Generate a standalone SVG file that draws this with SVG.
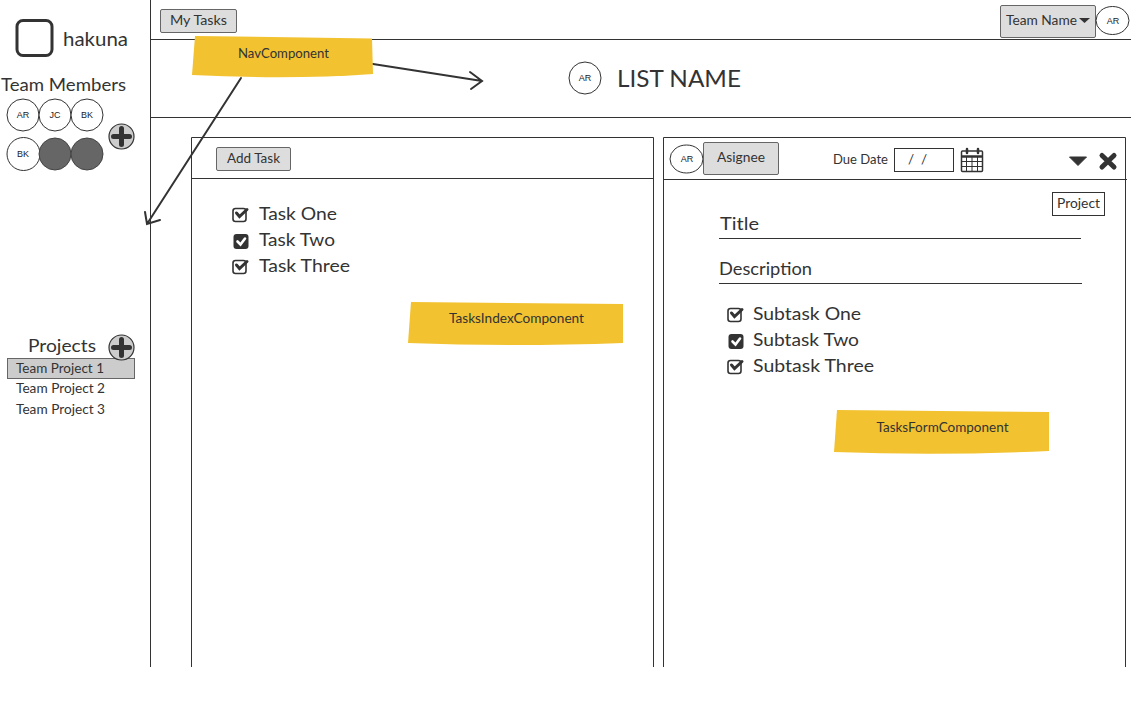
<svg xmlns="http://www.w3.org/2000/svg" width="1131" height="710" viewBox="0 0 1131 710">
<style>
text{font-family:"Lato","Liberation Sans",sans-serif;fill:#333}
.m{text-anchor:middle}
.ln{stroke:#333;stroke-width:1;fill:none}
.btn{fill:#ddd;stroke:#666;stroke-width:1}
.av{fill:#fff;stroke:#333;stroke-width:1}
.avt{font-family:"Liberation Sans",sans-serif;font-size:9px;text-anchor:middle;fill:#222}
.dark{fill:#666;stroke:#444;stroke-width:1}
.note{fill:#f2c230}
.t13{font-size:13.5px}
.t18{font-size:18px}
.arrow{stroke:#333;stroke-width:2;fill:none;stroke-linecap:round}
.chk{fill:none;stroke:#333;stroke-width:1.6}
.tick{fill:none;stroke:#333;stroke-width:3;stroke-linecap:round}
.tickw{fill:none;stroke:#fff;stroke-width:2.6;stroke-linecap:round}
</style>
<defs>
<g id="plus"><circle cx="0" cy="0" r="12.500" fill="#ccc" stroke="#333" stroke-width="1.200"/><path d="M0-8V8M-8 0H8" stroke="#333" stroke-width="5" stroke-linecap="round"/></g>
<g id="c1"><rect x="-7" y="-6" width="13" height="13" rx="2.500" class="chk"/><path d="M-3.500-1.500l3 3.500L7-5" class="tick"/></g>
<g id="c2"><rect x="-7.500" y="-7" width="15" height="15" rx="3" fill="#333"/><path d="M-3.500 .5l3 3L4-2.500" class="tickw"/></g>
</defs>
<g id="frame">
<path class="ln" d="M150.500 0V667M151 39.500H1131M151 117.500H1131"/>
<path class="ln" d="M191.500 667V137.500H653.500V667M191.500 178.500H653.500M663.500 667V137.500H1125.500V667M663.500 179.500H1127"/>
</g>
<g id="logo"><rect x="17" y="20.500" width="35" height="35" rx="6" fill="none" stroke="#333" stroke-width="3"/><text x="63" y="46" font-size="20" textLength="65" lengthAdjust="spacingAndGlyphs">hakuna</text></g>
<g id="team-members">
<text x="1" y="91" class="t18" textLength="125" lengthAdjust="spacingAndGlyphs">Team Members</text>
<circle class="av" cx="23" cy="115" r="16"/><text class="avt" x="23" y="118">AR</text>
<circle class="av" cx="55" cy="115" r="16"/><text class="avt" x="55" y="118">JC</text>
<circle class="av" cx="87" cy="115" r="16"/><text class="avt" x="87" y="118">BK</text>
<circle class="av" cx="23.500" cy="154" r="16.500"/><text class="avt" x="23" y="157">BK</text>
<circle class="dark" cx="55" cy="154" r="16"/><circle class="dark" cx="87" cy="154" r="16"/>
<use href="#plus" x="121.500" y="136.500"/>
</g>
<g id="projects">
<text x="28" y="352" class="t18" textLength="68" lengthAdjust="spacingAndGlyphs">Projects</text>
<rect x="7.500" y="358.500" width="127" height="20" fill="#ccc" stroke="#666" stroke-width="1"/>
<use href="#plus" x="121.500" y="347.500"/>
<text x="16" y="373" class="t13" textLength="88" lengthAdjust="spacingAndGlyphs">Team Project 1</text>
<text x="16" y="393" class="t13" textLength="89" lengthAdjust="spacingAndGlyphs">Team Project 2</text>
<text x="16" y="414" class="t13" textLength="89" lengthAdjust="spacingAndGlyphs">Team Project 3</text>
</g>
<g id="my-tasks"><rect class="btn" x="160.500" y="9.500" width="76" height="23" rx="1.500"/><text x="170" y="25" class="t13" textLength="57" lengthAdjust="spacingAndGlyphs">My Tasks</text></g>
<g id="team-name"><rect class="btn" x="1000.500" y="5.500" width="95" height="32" rx="1.500"/><text x="1006" y="25" class="t13" textLength="71" lengthAdjust="spacingAndGlyphs">Team Name</text><path d="M1079 18h11l-5.500 5z" fill="#333"/><ellipse class="av" cx="1112.500" cy="20.500" rx="16.500" ry="14"/><text class="avt" x="1113" y="24">AR</text></g>
<g id="list-name"><circle class="av" cx="585" cy="78" r="16"/><text class="avt" x="585" y="81">AR</text><text x="617" y="87" font-size="24" textLength="124" lengthAdjust="spacingAndGlyphs">LIST NAME</text></g>
<g id="connectors">
<path class="arrow" d="M373 64L482 81M470 72L482 81L471 89"/>
<path class="arrow" d="M241 78L147 224M145 212L147 224L160 220"/>
</g>
<g id="nav-note"><path class="note" d="M195 36L372 38.500L373 74Q290 80 192 75Z"/><text x="283.500" y="58" class="t13 m" textLength="91" lengthAdjust="spacingAndGlyphs">NavComponent</text></g>
<g id="add-task"><rect class="btn" x="216.500" y="147.500" width="74" height="23" rx="1.500"/><text x="227" y="163" class="t13" textLength="53" lengthAdjust="spacingAndGlyphs">Add Task</text></g>
<g id="tasks-index">
<use href="#c1" x="240" y="214.500"/><text x="259" y="220" class="t18" textLength="78" lengthAdjust="spacingAndGlyphs">Task One</text>
<use href="#c2" x="241" y="241"/><text x="259" y="246" class="t18" textLength="76" lengthAdjust="spacingAndGlyphs">Task Two</text>
<use href="#c1" x="240" y="266.500"/><text x="259" y="272" class="t18" textLength="91" lengthAdjust="spacingAndGlyphs">Task Three</text>
<path class="note" d="M411 302L623 304L623 343Q510 347 408 343Z"/><text x="516.500" y="323" class="t13 m" textLength="135" lengthAdjust="spacingAndGlyphs">TasksIndexComponent</text>
</g>
<g id="task-form-header">
<ellipse class="av" cx="686.500" cy="159" rx="16.500" ry="14"/><text class="avt" x="687" y="162">AR</text>
<rect class="btn" x="703.500" y="142.500" width="75" height="32" rx="1.500"/><text x="717" y="162" class="t13" textLength="48" lengthAdjust="spacingAndGlyphs">Asignee</text>
<text x="833" y="164" class="t13" textLength="55" lengthAdjust="spacingAndGlyphs">Due Date</text>
<rect x="894.500" y="148.500" width="59" height="23" fill="#fff" stroke="#333" stroke-width="1"/><text x="908" y="164" class="t13">/</text><text x="921" y="164" class="t13">/</text>
<g id="calendar" fill="none" stroke="#333"><rect x="961.500" y="151" width="21" height="20.500" rx="1" stroke-width="1.500"/><path d="M961.500 156.500H982.500" stroke-width="2.500"/><path d="M961.500 161.500H982.500M961.500 166.500H982.500M966.500 156V171M972 156V171M977.500 156V171" stroke-width="1"/><path d="M967 149V153M978 149V153" stroke-width="2.500" stroke-linecap="round"/></g>
<path d="M1069.500 157h17l-8.500 8.500z" fill="#333" stroke="#333" stroke-width="1" stroke-linejoin="round"/>
<path d="M1102 155.500L1114 167M1114 155.500L1102 167" stroke="#333" stroke-width="5" stroke-linecap="round"/>
</g>
<g id="project"><rect x="1052.500" y="192.500" width="52" height="23" fill="#fff" stroke="#333" stroke-width="1"/><text x="1057" y="208" class="t13" textLength="43" lengthAdjust="spacingAndGlyphs">Project</text></g>
<g id="task-form">
<text x="720" y="229.500" class="t18" textLength="39" lengthAdjust="spacingAndGlyphs">Title</text><path class="ln" d="M719 238.500H1081"/>
<text x="719" y="275" font-size="17" textLength="93" lengthAdjust="spacingAndGlyphs">Description</text><path class="ln" d="M719 283.500H1082"/>
<use href="#c1" x="735" y="314.500"/><text x="753" y="320" class="t18" textLength="108" lengthAdjust="spacingAndGlyphs">Subtask One</text>
<use href="#c2" x="736" y="341"/><text x="753" y="346" class="t18" textLength="106" lengthAdjust="spacingAndGlyphs">Subtask Two</text>
<use href="#c1" x="735" y="366.500"/><text x="753" y="372" class="t18" textLength="121" lengthAdjust="spacingAndGlyphs">Subtask Three</text>
<path class="note" d="M837 410L1049 412L1049 451Q940 456 834 452Z"/><text x="942.500" y="432" class="t13 m" textLength="132" lengthAdjust="spacingAndGlyphs">TasksFormComponent</text>
</g>
</svg>
